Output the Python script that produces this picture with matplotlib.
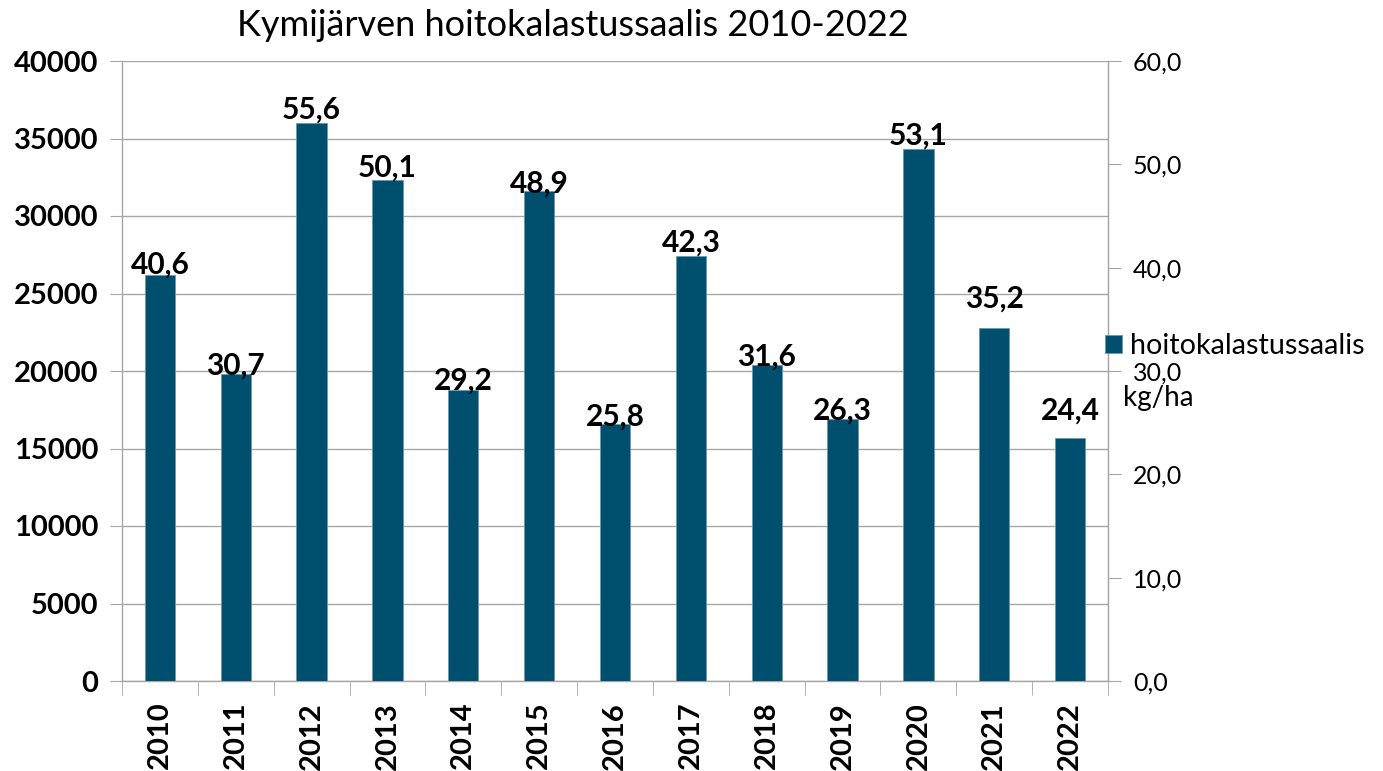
import matplotlib
matplotlib.use("Agg")
import matplotlib.pyplot as plt
from matplotlib.ticker import FixedLocator, FuncFormatter

# data
years = [2010, 2011, 2012, 2013, 2014, 2015, 2016, 2017, 2018, 2019, 2020, 2021, 2022]
catch_kg = [26200, 19800, 36000, 32300, 18800, 31600, 16600, 27400, 20400, 16900, 34300, 22800, 15700]
kg_per_ha = [40.6, 30.7, 55.6, 50.1, 29.2, 48.9, 25.8, 42.3, 31.6, 26.3, 53.1, 35.2, 24.4]
left_ticks = [0, 5000, 10000, 15000, 20000, 25000, 30000, 35000, 40000]
right_ticks = [0, 10, 20, 30, 40, 50, 60]

BAR = '#004F6F'
GRID = '#A6A6A6'
FONT = ['Lato', 'DejaVu Sans']
plt.rcParams['font.family'] = FONT

W, H = 1383, 771
fig = plt.figure(figsize=(W / 100, H / 100), dpi=100)
ax = fig.add_axes([122 / W, (H - 681) / H, (1108 - 122) / W, (681 - 61) / H])

x = list(range(len(years)))
ax.bar(x, catch_kg, width=0.4, color=BAR, edgecolor='#6F97AC', linewidth=0.6, zorder=3,
       label='hoitokalastussaalis')

# data labels (kg/ha), lifted a bit above bar tops
lift_px = [10, 9, 13, 13, 9, 8, 7, 14, 8, 8, 14, 29, 27]
for xi, v, lab, lp in zip(x, catch_kg, kg_per_ha, lift_px):
    ax.annotate(f"{lab:.1f}".replace('.', ','), (xi, v), xytext=(0, lp * 0.72),
                textcoords='offset points', ha='center', va='center',
                fontsize=21.5, fontweight='bold', zorder=5)

ax.set_xlim(-0.5, len(years) - 0.5)
ax.set_ylim(0, 40000)
ax.yaxis.set_major_locator(FixedLocator(left_ticks))
ax.grid(axis='y', color=GRID, linewidth=1, zorder=0)
ax.tick_params(axis='y', direction='out', length=9, color=GRID, labelsize=21, pad=8)
for t in ax.get_yticklabels():
    t.set_fontweight('bold')

ax.set_xticks(x)
ax.set_xticklabels([str(y) for y in years], rotation=90, fontsize=21, fontweight='bold')
ax.set_xticks([i - 0.5 for i in range(len(years) + 1)], minor=True)
ax.tick_params(axis='x', which='major', length=0, pad=15)
ax.tick_params(axis='x', which='minor', direction='out', length=10, color=GRID)

for s in ['top']:
    ax.spines[s].set_visible(False)
for s in ['left', 'right', 'bottom']:
    ax.spines[s].set_color(GRID)
    ax.spines[s].set_linewidth(1)

# secondary axis in kg/ha
ax2 = ax.twinx()
ax2.set_ylim(0, 60)
ax2.yaxis.set_major_locator(FixedLocator(right_ticks))
ax2.yaxis.set_major_formatter(FuncFormatter(lambda v, p: f"{v:.1f}".replace('.', ',')))
ax2.tick_params(axis='y', direction='out', length=9, color=GRID, labelsize=18, pad=9)
for s in ['top', 'left', 'bottom']:
    ax2.spines[s].set_visible(False)
ax2.spines['right'].set_color(GRID)

fig.text(1123 / W, 1 - 398 / H, 'kg/ha', fontsize=20, va='center', ha='left')

handles, labels = ax.get_legend_handles_labels()
fig.legend(handles, labels, loc='center left', bbox_to_anchor=(1093 / W, 1 - 346 / H),
           frameon=False, fontsize=20.7, handlelength=0.6, handleheight=0.6,
           handletextpad=0.3, borderaxespad=0)

fig.text(573 / W, 1 - 26 / H, 'Kymijärven hoitokalastussaalis 2010-2022',
         ha='center', va='center', fontsize=26,
         family=['Liberation Sans Narrow', 'Lato', 'DejaVu Sans'])

fig.savefig('out.png', dpi=100)
